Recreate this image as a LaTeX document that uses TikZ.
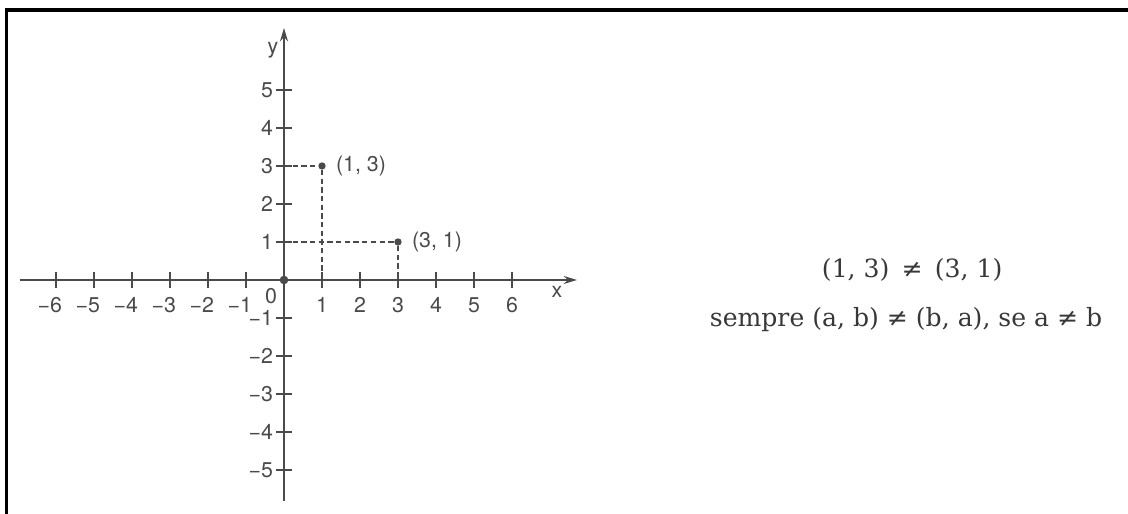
\documentclass[tikz,border=0pt]{standalone}
\usepackage{fontspec}
\setsansfont{TeX Gyre Heros}
\newfontfamily\livro{DejaVu Serif}
\usetikzlibrary{arrows.meta,positioning}
\definecolor{cinza}{HTML}{4A4A4A}
\definecolor{tinta}{HTML}{383838}
\begin{document}
\begin{tikzpicture}[>={Stealth[length=10pt,width=6pt]},
    eixo/.style={draw=cinza, line width=1.1pt},
    marca/.style={draw=cinza, line width=0.9pt},
    tracejado/.style={draw=cinza, line width=0.8pt, dash pattern=on 4pt off 2.5pt},
    ponto/.style={circle, fill=cinza, inner sep=0pt, minimum size=5.5pt},
    num/.style={text=cinza, font=\sffamily\fontsize{16}{18}\selectfont, inner sep=0pt},
    frase/.style={text=tinta, font=\livro\fontsize{18.8}{22}\selectfont, inner sep=0pt}]

    \useasboundingbox (-7.474,-6.158) rectangle (22.21,7.368);

    % moldura
    \draw[line width=2.6pt] (-7.303,-6.4) -- (-7.303,7.105) -- (22.4,7.105);

    % eixos
    \coordinate (xmin) at (-6.95,0);
    \coordinate (xmax) at (7.71,0);
    \coordinate (ymin) at (0,-5.82);
    \coordinate (ymax) at (0,6.63);
    \draw[eixo, ->] (xmin) -- (xmax);
    \draw[eixo, ->] (ymin) -- (ymax);
    \node[num] (xlab) at (7.18,-0.32) {x};
    \node[num] (ylab) at (-0.29,6.05) {y};
    \node[num] (zero) at (-0.34,-0.42) {0};

    % marcas
    \foreach \i in {1,...,6} {
        \draw[marca] (\i,0.2) -- (\i,-0.2);
        \draw[marca] (-\i,0.2) -- (-\i,-0.2);
        \node[num] at (\i,-0.66) {\i};
        \node[num] at (-\i,-0.66) {\llap{−}\i};
    }
    \foreach \j in {1,...,5} {
        \draw[marca] (-0.2,\j) -- (0.2,\j);
        \draw[marca] (-0.2,-\j) -- (0.2,-\j);
        \node[num, anchor=east] at (-0.28,\j) {\j};
        \node[num, anchor=east] at (-0.28,-\j) {−\j};
    }

    % pontos
    \node[ponto, minimum size=6.5pt] (o) at (0,0) {};
    \node[ponto] (p13) at (1,3) {};
    \node[ponto] (p31) at (3,1) {};
    \coordinate (y3) at (0,3);
    \coordinate (y1) at (0,1);
    \coordinate (x1) at (1,0);
    \coordinate (x3) at (3,0);
    \draw[tracejado] (y3) -- (p13) -- (x1);
    \draw[tracejado] (y1) -- (p31) -- (x3);
    \node[num, right=0.26 of p13] (l13) {(1, 3)};
    \node[num, right=0.26 of p31] (l31) {(3, 1)};

    % texto
    \node[frase] (linha1) at (16.53,0.26) {(1, 3)\, ≠\, (3, 1)};
    \node[frase] (linha2) at (16.37,-1.05) {sempre (a, b) ≠ (b, a), se a ≠ b};

\end{tikzpicture}
\end{document}
